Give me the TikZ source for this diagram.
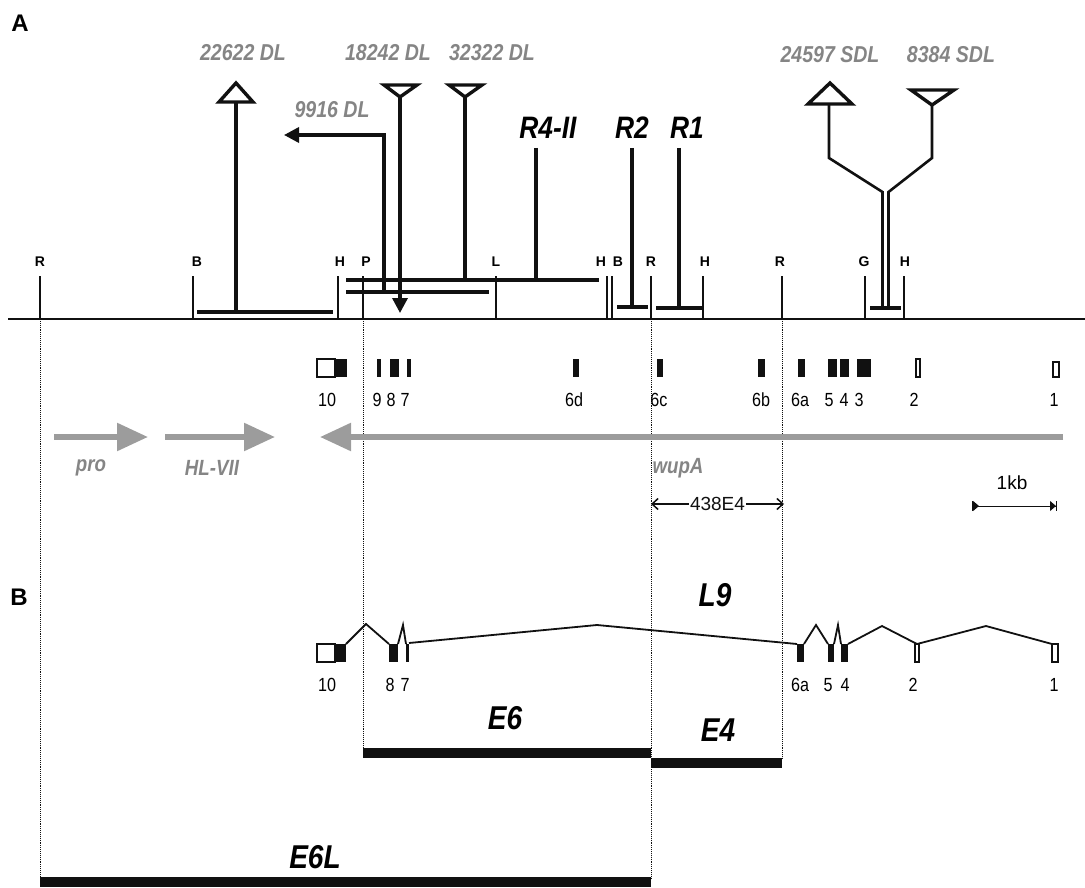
\documentclass[tikz,border=0pt]{standalone}
\usepackage{fontspec}
\setmainfont{Liberation Sans}
\newfontfamily\narrow[FakeStretch=0.85]{Liberation Sans}
\usepackage{tikz}
\usetikzlibrary{arrows.meta,positioning}
\definecolor{ink}{HTML}{111111}
\definecolor{fade}{HTML}{858585}
\definecolor{pale}{HTML}{9C9C9C}

\begin{document}
\begin{tikzpicture}[x=1pt, y=-1pt,
  panel/.style={font=\fontsize{24}{27}\selectfont\bfseries, inner sep=0pt},
  site/.style={font=\fontsize{14}{16}\selectfont\bfseries, inner sep=0pt},
  tk/.style={line width=1.1pt, ink},
  struct/.style={line width=3.4pt, ink, line join=miter},
  dl/.style={font=\narrow\fontsize{23}{26}\selectfont\bfseries\itshape, text=fade, inner sep=0pt},
  rlab/.style={font=\narrow\fontsize{31}{34}\selectfont\bfseries\itshape, inner sep=0pt},
  exn/.style={font=\narrow\fontsize{19}{22}\selectfont, inner sep=0pt},
  gene/.style={font=\narrow\fontsize{22}{25}\selectfont\bfseries\itshape, text=fade, inner sep=0pt},
  garr/.style={pale, line width=5.5pt, -{Triangle[length=31pt,width=27pt]}},
  dots/.style={densely dotted, line width=0.9pt, ink},
  intron/.style={line width=1.8pt, ink},
  clone/.style={line width=10pt, ink},
  big/.style={font=\narrow\fontsize{33}{36}\selectfont\bfseries\itshape, inner sep=0pt},
  openexon/.style={draw=ink, line width=1.1pt, fill=white}
]
  \useasboundingbox (0,0) rectangle (1085,888);
  \node[panel] (pa) at (20,23) {A};
  \node[panel] (pb) at (19,597) {B};

  \draw[line width=1.8pt, ink] (8,319) -- (1085,319);
  \foreach \x/\lx/\t/\n in {40/40/R/ra, 193/197/B/ba, 338/340/H/ha, 363/366/P/pp,
      496/496/L/la, 607/601/H/hb, 612/618/B/bb, 651/651/R/rb, 703/705/H/hc,
      782/780/R/rc, 865/864/G/ga, 904/905/H/hd} {
    \draw[tk] (\x,276) -- (\x,319);
    \coordinate (\n) at (\x,319);
    \node[site] (\n-t) at (\lx,262) {\t};
  }

  \draw[dots] (ra) -- (40,878);
  \draw[dots] (pp) -- (363,749);
  \draw[dots] (rb) -- (651,878);
  \draw[dots] (rc) -- (782,759);

  \draw[struct] (197,312) -- (333,312);
  \draw[struct] (236,312) -- (236,102);
  \draw[struct] (219,102) -- (253,102) -- (236,83) -- cycle;
  \node[dl] (d22622) at (243,53) {22622 DL};

  \draw[struct] (346,280) -- (599,280);
  \draw[struct] (346,292) -- (489,292);
  \draw[struct, -{Triangle[length=15pt,width=15pt]}] (384,292) -- (384,135) -- (284,135);
  \node[dl] (d9916) at (332,110) {9916 DL};
  \draw[struct] (384,85) -- (417,85) -- (400,97) -- cycle;
  \draw[struct, -{Triangle[length=15pt,width=15pt]}] (400,97) -- (400,313);
  \node[dl] (d18242) at (388,53) {18242 DL};
  \draw[struct] (449,85) -- (482,85) -- (465,97) -- cycle;
  \draw[struct] (465,97) -- (465,280);
  \node[dl] (d32322) at (492,53) {32322 DL};

  \draw[struct] (536,148) -- (536,280);
  \node[rlab] (r4) at (548,128) {R4-II};
  \draw[struct] (632,148) -- (632,307);
  \draw[struct] (617,307) -- (648,307);
  \node[rlab] (r2) at (632,128) {R2};
  \draw[struct] (679,148) -- (679,308);
  \draw[struct] (656,308) -- (702,308);
  \node[rlab] (r1) at (687,128) {R1};

  \draw[struct] (808,104) -- (852,104) -- (830,83) -- cycle;
  \draw[struct, line width=2.6pt] (829,104) -- (829,158) -- (882.5,192) -- (882.5,308);
  \draw[struct] (911,90) -- (954,90) -- (932,105) -- cycle;
  \draw[struct, line width=2.6pt] (932,105) -- (932,158) -- (888.5,192) -- (888.5,308);
  \draw[struct] (870,308) -- (901,308);
  \node[dl] (s24597) at (830,55) {24597 SDL};
  \node[dl] (s8384) at (951,55) {8384 SDL};

  \draw[openexon] (317,359) rectangle (335,377);
  \foreach \a/\b in {335/347, 377/381, 390/399, 407/411, 573/579, 657/663,
      758/765, 798/805, 828/837, 840/849, 857/871}
    \fill[ink] (\a,359) rectangle (\b,377);
  \draw[openexon] (916,359) rectangle (920,377);
  \draw[openexon] (1053,362) rectangle (1059,377);
  \foreach \x/\t/\n in {327/10/e10, 377/9/e9, 391/8/e8, 405/7/e7, 574/6d/e6d,
      659/6c/e6c, 761/6b/e6b, 800/6a/e6a, 829/5/e5, 844/4/e4, 859/3/e3,
      914/2/e2, 1054/1/e1}
    \node[exn] (\n) at (\x,400) {\t};

  \draw[garr] (54,437) -- (148,437);
  \draw[garr] (165,437) -- (275,437);
  \draw[garr] (1063,437) -- (320,437);
  \node[gene] (pro) at (91,468) {pro};
  \node[gene] (hl) at (212,468) {HL-VII};
  \node[gene] (wup) at (678,468) {wupA};

  \coordinate (c1) at (651,504);
  \coordinate (c2) at (784,504);
  \draw[line width=1.5pt, ink, {Straight Barb[length=6pt,width=11pt]}-{Straight Barb[length=6pt,width=11pt]}]
    (c1) -- node[fill=white, inner sep=1.5pt, font=\fontsize{19}{22}\selectfont] (e438) {438E4} (c2);

  \coordinate (k1) at (972,506);
  \coordinate (k2) at (1057,506);
  \draw[line width=1pt, ink, {Bar[width=10pt]Triangle[reversed,length=6pt,width=10pt]}-{Triangle[length=6pt,width=10pt]Bar[width=10pt]}] (k1) -- (k2);
  \node[font=\fontsize{19}{22}\selectfont, inner sep=0pt] (kb) at (1012,483) {1kb};

  \node[big] (l9) at (715,595) {L9};
  \draw[openexon] (317,644) rectangle (335,662);
  \foreach \a/\b in {335/346, 389/398, 406/409, 797/804, 828/834, 841/848}
    \fill[ink] (\a,644) rectangle (\b,662);
  \draw[openexon] (915,644) rectangle (919,662);
  \draw[openexon] (1052,644) rectangle (1058,662);
  \draw[intron] (346,644) -- (366,624) -- (389,644);
  \draw[intron] (398,644) -- (403,625) -- (406,644);
  \draw[intron] (409,643) -- (597,625) -- (797,644);
  \draw[intron] (804,644) -- (816,625) -- (828,644);
  \draw[intron] (834,644) -- (838,625) -- (841,644);
  \draw[intron] (848,644) -- (882,626) -- (917,644);
  \draw[intron] (917,644) -- (986,626) -- (1052,644);
  \foreach \x/\t/\n in {327/10/f10, 390/8/f8, 405/7/f7, 800/6a/f6a, 828/5/f5,
      845/4/f4, 913/2/f2, 1054/1/f1}
    \node[exn] (\n) at (\x,685) {\t};

  \draw[clone] (363,753) -- (651,753);
  \node[big] (ce6) at (505,718) {E6};
  \draw[clone] (651,763) -- (782,763);
  \node[big] (ce4) at (718,730) {E4};
  \draw[clone] (40,882) -- (651,882);
  \node[big] (ce6l) at (315,857) {E6L};
\end{tikzpicture}
\end{document}
